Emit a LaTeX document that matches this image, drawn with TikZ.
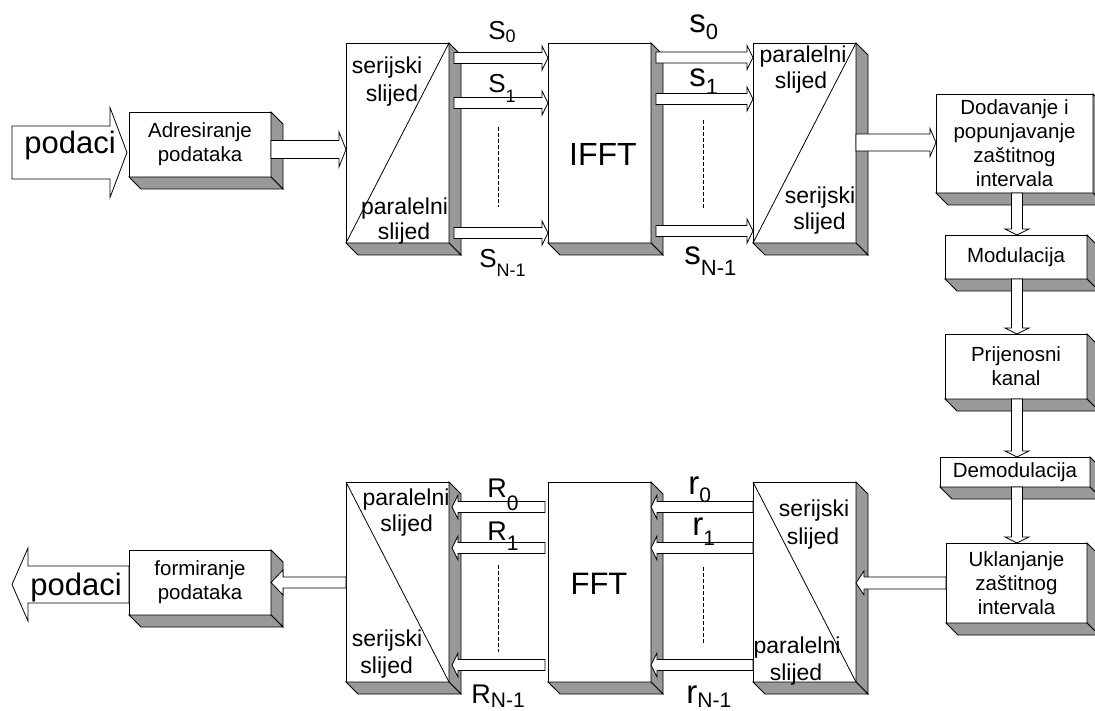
\documentclass[tikz,border=0pt]{standalone}
\usepackage{fontspec}
\setmainfont{Liberation Sans}
\usetikzlibrary{calc}
\definecolor{depthgray}{HTML}{999999}
\newcommand\fs[2]{\fontsize{#1}{#2}\selectfont}
\newcommand\sublab[5]{{\fs{#3}{#3}#1}\raisebox{-#5pt}{\fs{#4}{#4}#2}}
\newcommand\drawdepth[1]{%
  \filldraw[depthface] (#1.north east) -- ++(12,12) -- ($(#1.south east)+(12,12)$) -- (#1.south east) -- cycle;
  \filldraw[depthface] (#1.south west) -- ++(12,12) -- ($(#1.south east)+(12,12)$) -- (#1.south east) -- cycle;}
\begin{document}
\begin{tikzpicture}[x=1pt,y=-1pt,line width=0.8pt,
  box/.style={draw, fill=white, inner sep=0pt, outer sep=0pt, anchor=north west, align=center, font=\fs{20.5}{24}},
  depthface/.style={fill=depthgray, draw=black, line join=miter},
  barrow/.style args={#1/#2/#3}{draw, fill=white, line join=miter, to path={
      ($(\tikztostart)!#1!90:(\tikztotarget)$)
      -- ($(\tikztotarget)!#3!(\tikztostart)!#1!90:(\tikztotarget)$)
      -- ($(\tikztotarget)!#3!(\tikztostart)!#2!90:(\tikztotarget)$)
      -- (\tikztotarget)
      -- ($(\tikztotarget)!#3!(\tikztostart)!#2!-90:(\tikztotarget)$)
      -- ($(\tikztotarget)!#3!(\tikztostart)!#1!-90:(\tikztotarget)$)
      -- ($(\tikztostart)!#1!-90:(\tikztotarget)$) -- cycle}},
  thin arrow/.style={barrow=5.5pt/12pt/6pt},
  dashline/.style={line width=1pt, dash pattern=on 4pt off 2pt},
  sptxt/.style={inner sep=0pt, anchor=base, font=\fs{23}{27}},
  lab/.style={inner sep=0pt, anchor=base west},
  bigtxt/.style={inner sep=0pt, anchor=base}]
\useasboundingbox (0,0) rectangle (1095,711);
\clip (0,0) rectangle (1095,711);

% ---- boxes
\node[box, minimum width=142pt, minimum height=65pt] (adr) at (129,112) {Adresiranje\\podataka};
\node[box, minimum width=103pt, minimum height=200pt] (sp1) at (346,43) {};
\node[box, minimum width=103pt, minimum height=200pt] (ifft) at (548,43) {};
\node[box, minimum width=103pt, minimum height=200pt] (ps1) at (753,43) {};
\node[box, minimum width=157pt, minimum height=99pt] (dod) at (936,94) {Dodavanje i\\popunjavanje\\zaštitnog\\intervala};
\node[box, minimum width=142pt, minimum height=44pt] (mod) at (945,235) {Modulacija};
\node[box, minimum width=142pt, minimum height=65pt] (prij) at (945,334) {Prijenosni\\kanal};
\node[box, minimum width=150pt, minimum height=30pt] (demod) at (940,457) {Demodulacija};
\node[box, minimum width=141pt, minimum height=80pt] (ukl) at (946,543) {Uklanjanje\\zaštitnog\\intervala};
\node[box, minimum width=103pt, minimum height=200pt] (ps2) at (753,482) {};
\node[box, minimum width=103pt, minimum height=200pt] (fft) at (548,482) {};
\node[box, minimum width=103pt, minimum height=200pt] (sp2) at (346,482) {};
\node[box, minimum width=142pt, minimum height=65pt] (form) at (129,550) {formiranje\\podataka};

\foreach \b in {adr,sp1,ifft,ps1,dod,mod,prij,demod,ukl,ps2,fft,sp2,form}{\drawdepth{\b}}

% ---- diagonals and dashes
\draw (sp1.south west) -- (sp1.north east);
\draw (ps1.south west) -- (ps1.north east);
\draw (sp2.north west) -- (sp2.south east);
\draw (ps2.north west) -- (ps2.south east);
\draw[dashline] (498,127) -- (498,207);
\draw[dashline] (703,120) -- (703,208);
\draw[dashline] (498,565) -- (498,652);
\draw[dashline] (703,567) -- (703,645);

% ---- block arrows
\coordinate (inStart) at (12,152.5);
\coordinate (outEnd) at (12,584.5);
\draw[barrow=26.5pt/45pt/17pt] (inStart) to ($(adr.west)+(-2,8)$);
\draw[barrow=9pt/17.5pt/7pt] ($(adr.east)+(0,5)$) to ($(sp1.west)+(0,6.5)$);
\draw[thin arrow] ($(sp1.east |- 0,58)+(5,0)$) to (ifft.west |- 0,58);
\draw[thin arrow] ($(sp1.east |- 0,103)+(5,0)$) to (ifft.west |- 0,103);
\draw[thin arrow] ($(sp1.east |- 0,233)+(5,0)$) to (ifft.west |- 0,233);
\draw[thin arrow] ($(ifft.east |- 0,57.5)+(5,0)$) to (ps1.west |- 0,57.5);
\draw[thin arrow] ($(ifft.east |- 0,99)+(5,0)$) to (ps1.west |- 0,99);
\draw[thin arrow] ($(ifft.east |- 0,231)+(5,0)$) to (ps1.west |- 0,231);
\draw[barrow=8.5pt/14pt/6pt] (ps1.east |- 0,142.5) to (dod.west |- 0,142.5);
\draw[thin arrow] (dod.south -| 1017,0) to (mod.north -| 1017,0);
\draw[thin arrow] (mod.south -| 1017,0) to (prij.north -| 1017,0);
\draw[thin arrow] (prij.south -| 1017,0) to (demod.north -| 1017,0);
\draw[thin arrow] (demod.south -| 1017,0) to (ukl.north -| 1017,0);
\draw[barrow=6pt/12pt/8pt] (ukl.west |- 0,583) to (ps2.east |- 0,583);
\draw[thin arrow] (ps2.west |- 0,507) to (fft.east |- 0,507);
\draw[thin arrow] (ps2.west |- 0,548) to (fft.east |- 0,548);
\draw[thin arrow] (ps2.west |- 0,665) to (fft.east |- 0,665);
\draw[thin arrow] ($(fft.west |- 0,507)+(-3,0)$) to ($(sp2.east |- 0,507)+(3,0)$);
\draw[thin arrow] ($(fft.west |- 0,548)+(-3,0)$) to ($(sp2.east |- 0,548)+(3,0)$);
\draw[thin arrow] ($(fft.west |- 0,665)+(-3,0)$) to ($(sp2.east |- 0,665)+(3,0)$);
\draw[barrow=5.5pt/12.5pt/12pt] (sp2.west |- 0,582.5) to (form.east |- 0,582.5);
\draw[barrow=18.5pt/36.5pt/16pt] (form.west |- 0,584.5) to (outEnd);

% ---- texts
\node[bigtxt, font=\fs{31}{31}] (tin) at (70,154) {podaci};
\node[bigtxt, font=\fs{31}{31}] (tout) at (76,595) {podaci};
\node[bigtxt, font=\fs{32}{32}] (tifft) at (603,166) {IFFT};
\node[bigtxt, font=\fs{31}{31}] (tfft) at (599,594) {FFT};

\node[sptxt] (a1) at (387,74) {serijski};
\node[sptxt] (a2) at (392,102) {slijed};
\node[sptxt] (a3) at (404.5,215) {paralelni};
\node[sptxt] (a4) at (404,240) {slijed};
\node[sptxt] (b1) at (803,63) {paralelni};
\node[sptxt] (b2) at (801,89) {slijed};
\node[sptxt] (b3) at (820,204) {serijski};
\node[sptxt] (b4) at (819.5,230) {slijed};
\node[sptxt] (c1) at (406,505) {paralelni};
\node[sptxt] (c2) at (406.7,531.7) {slijed};
\node[sptxt] (c3) at (387,646.7) {serijski};
\node[sptxt] (c4) at (386.7,673.3) {slijed};
\node[sptxt] (d1) at (814,516.7) {serijski};
\node[sptxt] (d2) at (813,544) {slijed};
\node[sptxt] (d3) at (797,653) {paralelni};
\node[sptxt] (d4) at (796,680) {slijed};

\node[lab] (lS0) at (488,40) {\sublab{S}{0}{26}{18}{3}};
\node[lab] (lS1) at (488,93) {\sublab{S}{1}{26}{18}{10}};
\node[lab] (lSN) at (479,268) {\sublab{S}{N-1}{26}{18}{9}};
\node[lab] (ls0) at (689,33) {\sublab{s}{0}{33}{22}{7}};
\node[lab] (ls1) at (689,87) {\sublab{s}{1}{33}{22}{8}};
\node[lab] (lsN) at (684,265) {\sublab{s}{N-1}{33}{22}{11}};
\node[lab] (lR0) at (487,497) {\sublab{R}{0}{27}{21}{13}};
\node[lab] (lR1) at (487,540) {\sublab{R}{1}{27}{21}{10}};
\node[lab] (lRN) at (471,703) {\sublab{R}{N-1}{27}{21}{4}};
\node[lab] (lr0) at (688,494) {\sublab{r}{0}{33}{21}{8}};
\node[lab] (lr1) at (692,535) {\sublab{r}{1}{33}{21}{10}};
\node[lab] (lrN) at (686,703) {\sublab{r}{N-1}{33}{21}{4}};
\end{tikzpicture}
\end{document}
